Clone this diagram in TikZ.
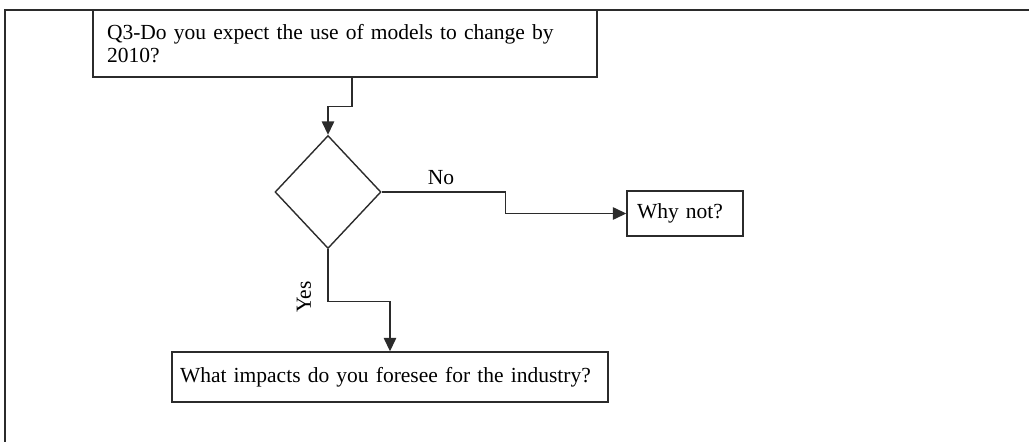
\documentclass[tikz,border=0pt]{standalone}
\usepackage{fontspec}
\setmainfont{Liberation Serif}
\usetikzlibrary{shapes.geometric,arrows.meta}
\definecolor{ink}{HTML}{2B2B2B}
\begin{document}
\begin{tikzpicture}[x=1pt,y=-1pt,
  line width=1.4pt, draw=ink,
  every node/.style={font=\fontsize{21.5}{22.5}\selectfont, text=black},
  box/.style={draw=ink, rectangle, inner sep=0pt, align=left},
  decision/.style={draw=ink, diamond, inner sep=0pt},
  flow/.style={draw=ink, -{Triangle[length=13.5pt,width=12.5pt]}},
  lbl/.style={inner sep=1pt}]
  \useasboundingbox (0,0) rectangle (1029,442);
  % outer frame (top and left edges)
  \draw (1029,10) -- (5,10) -- (5,442);

  % boxes and decision
  \node[box, minimum width=504pt, minimum height=67pt, text width=476pt] (q3) at (345,43.5)
    {Q3-Do you expect the use of models to change by\\2010?};
  \node[decision, minimum width=106pt, minimum height=113pt] (dec) at (328,192) {};
  \node[box, minimum width=116pt, minimum height=45pt, text width=96pt] (why) at (685,213.5) {Why not?};
  \node[box, minimum width=436pt, minimum height=50pt, text width=420pt] (imp) at (390,377)
    {What impacts do you foresee for the industry?};

  % connectors
  \draw[flow] ([xshift=7pt]q3.south) -- ++(0,29) -| (dec.north);
  \draw[flow] (dec.east) -- ++(124,0) |- (why.west);
  \draw[flow] (dec.south) -- ++(0,52) -| (imp.north);

  % branch labels
  \node[lbl] (nolbl) at (441,178) {No};
  \node[lbl, rotate=90] (yeslbl) at (304,297) {Yes};
\end{tikzpicture}
\end{document}
